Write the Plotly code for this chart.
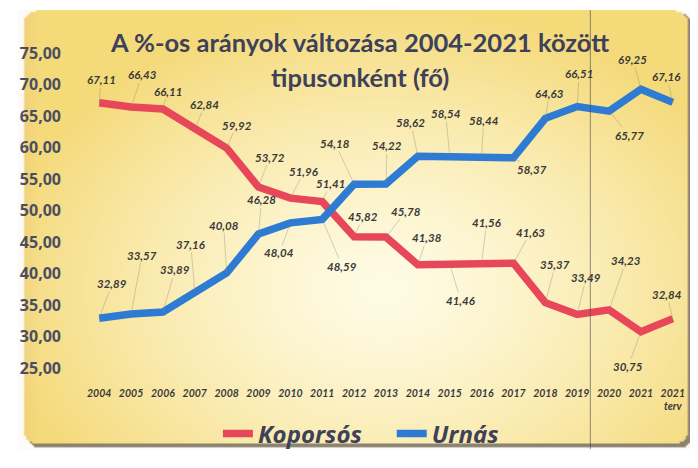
import base64, struct, zlib
import numpy as np
import plotly.graph_objects as go

# ---------------- data ----------------
categories = ["2004", "2005", "2006", "2007", "2008", "2009", "2010", "2011", "2012",
              "2013", "2014", "2015", "2016", "2017", "2018", "2019", "2020", "2021",
              "2021<br>terv"]
koporsos = [67.11, 66.43, 66.11, 62.84, 59.92, 53.72, 51.96, 51.41, 45.82, 45.78,
            41.38, 41.46, 41.56, 41.63, 35.37, 33.49, 34.23, 30.75, 32.84]
urnas = [32.89, 33.57, 33.89, 37.16, 40.08, 46.28, 48.04, 48.59, 54.18, 54.22,
         58.62, 58.54, 58.44, 58.37, 64.63, 66.51, 65.77, 69.25, 67.16]
y_ticks = [25, 30, 35, 40, 45, 50, 55, 60, 65, 70, 75]
series_names = ["Koporsós", "Urnás"]
title_lines = ["A %-os arányok változása 2004-2021 között", "tipusonként (fő)"]

# label offsets (pixels, label relative to point)
kop_off = [(2, -23), (11, -32), (5, -18), (10, -25), (10, -23), (11, -30), (14, -27),
           (8, -18), (9, -20), (20, -26), (9, -27), (11, 36), (5, -41), (17, -31),
           (10, -38), (9, -37), (17, -49), (-13, 35), (-6, -24)]
urn_off = [(13, -35), (11, -59), (12, -42), (-4, -47), (-3, -48), (3, -34), (-11, 30),
           (20, 47), (-19, -41), (1, -38), (-7, -34), (-4, -43), (2, -37), (19, 12),
           (4, -25), (2, -33), (20, 24), (-8, -30), (-6, -26)]

# page has an 8px body margin: figure occupies screen (8..698, 8..468)
OFF = 8
SW, SH = 698, 468
W, H = SW - OFF, SH - OFF
PL, PR, PT, PB = 87, 676, 53, 383          # plot area in screen pixels
L, R, T, B = PL - OFF, SW - PR, PT - OFF, SH - PB
PW, PH = PR - PL, PB - PT


def px(sx):
    return (sx - PL) / PW


def py(sy):
    return (PB - sy) / PH


RED = "#e8475a"
BLUE = "#2e7bd4"
TXT = "#3d4159"


# ---------------- background card (gradient image) ----------------
def png_uri(arr):
    h, w, _ = arr.shape
    raw = b"".join(b"\x00" + arr[i].tobytes() for i in range(h))

    def chunk(t, d):
        c = struct.pack(">I", len(d)) + t + d
        return c + struct.pack(">I", zlib.crc32(t + d) & 0xFFFFFFFF)

    png = (b"\x89PNG\r\n\x1a\n"
           + chunk(b"IHDR", struct.pack(">IIBBBBB", w, h, 8, 6, 0, 0, 0))
           + chunk(b"IDAT", zlib.compress(raw, 9))
           + chunk(b"IEND", b""))
    return "data:image/png;base64," + base64.b64encode(png).decode()


S = 2
gw, gh = W // S, H // S
xs = OFF + (np.arange(gw) + 0.5) * S
ys = OFF + (np.arange(gh) + 0.5) * S
X, Y = np.meshgrid(xs, ys)


def rrect(x0, y0, x1, y1, r):
    inside = (X >= x0) & (X <= x1) & (Y >= y0) & (Y <= y1)
    cx = np.clip(X, x0 + r, x1 - r)
    cy = np.clip(Y, y0 + r, y1 - r)
    return inside & (((X - cx) ** 2 + (Y - cy) ** 2) <= r * r)


img = np.zeros((gh, gw, 3), dtype=float)
img[:] = [252, 251, 247]
shadow = rrect(17, 12, 693, 466, 12)
img[shadow] = [140, 130, 112]
card = rrect(14, 9, 688, 462, 12)
d = np.sqrt(((X - 380) / 400) ** 2 + ((Y - 300) / 300) ** 2)
t = np.clip(d, 0, 1) ** 1.3
inner = np.array([255, 252, 230])
outer = np.array([245, 218, 122])
grad = inner[None, None, :] * (1 - t[..., None]) + outer[None, None, :] * t[..., None]
edge = np.clip(1 - (X - 14) / 14, 0, 1)[..., None]
grad = grad * (1 - 0.35 * edge) + np.array([236, 196, 118]) * 0.35 * edge
img[card] = grad[card]
rgba = np.dstack([img, np.full((gh, gw), 255.0)]).astype(np.uint8)
bg_uri = png_uri(rgba)

# ---------------- figure ----------------
GAP = "\u00a0" * 4
fig = go.Figure()
fig.add_trace(go.Scatter(x=categories, y=koporsos, mode="lines",
                         name=series_names[0] + GAP,
                         line=dict(color=RED, width=7.5)))
fig.add_trace(go.Scatter(x=categories, y=urnas, mode="lines", name=series_names[1],
                         line=dict(color=BLUE, width=7.5)))

annotations = []
for series, offs in ((koporsos, kop_off), (urnas, urn_off)):
    for i, (v, (ax, ay)) in enumerate(zip(series, offs)):
        annotations.append(dict(
            x=i, y=v, xref="x", yref="y", text=f"{v:.2f}".replace(".", ","),
            showarrow=True, arrowhead=0, arrowwidth=0.7,
            arrowcolor="rgba(140,140,120,0.55)", ax=ax, ay=ay,
            font=dict(family="Lato", size=11.5, color="#3a3a3a",
                      style="italic", weight="bold")))

for line_text, sy in zip(title_lines, (42, 78)):
    annotations.append(dict(
        x=px(355), y=py(sy), xref="paper", yref="paper", text=line_text,
        showarrow=False, xanchor="center", yanchor="middle",
        font=dict(family="Lato", size=25.5, color=TXT, weight="bold")))

fig.update_layout(
    width=W, height=H,
    margin=dict(l=L, r=R, t=T, b=B),
    paper_bgcolor="white",
    plot_bgcolor="rgba(0,0,0,0)",
    separators=",.",
    xaxis=dict(type="category", range=[-0.1, len(categories) - 0.9], showgrid=False,
               zeroline=False, showline=False, ticks="", ticklabelstandoff=17,
               tickfont=dict(family="Lato", size=10.5, color="#3a3a3a",
                             style="italic", weight="bold")),
    yaxis=dict(range=[25, 75], tickvals=y_ticks, tickformat=".2f", showgrid=False,
               zeroline=False, showline=False, ticks="", ticklabelstandoff=34,
               tickfont=dict(family="Open Sans", size=16, color="#4a4e63",
                             weight="bold")),
    legend=dict(orientation="h", x=px(356), xanchor="center",
                y=py(452), yanchor="middle",
                bgcolor="rgba(0,0,0,0)",
                font=dict(family="Open Sans", size=24, color=TXT,
                          style="italic", weight="bold")),
    annotations=annotations,
    images=[dict(source=bg_uri, xref="paper", yref="paper",
                 x=px(OFF), y=py(OFF), sizex=W / PW, sizey=H / PH,
                 xanchor="left", yanchor="top", sizing="stretch", layer="below")],
    shapes=[dict(type="line", xref="paper", yref="paper",
                 x0=px(589), x1=px(589), y0=py(SH), y1=py(OFF),
                 line=dict(color="rgba(70,70,70,0.6)", width=1))],
)

fig.write_html("out.html")
